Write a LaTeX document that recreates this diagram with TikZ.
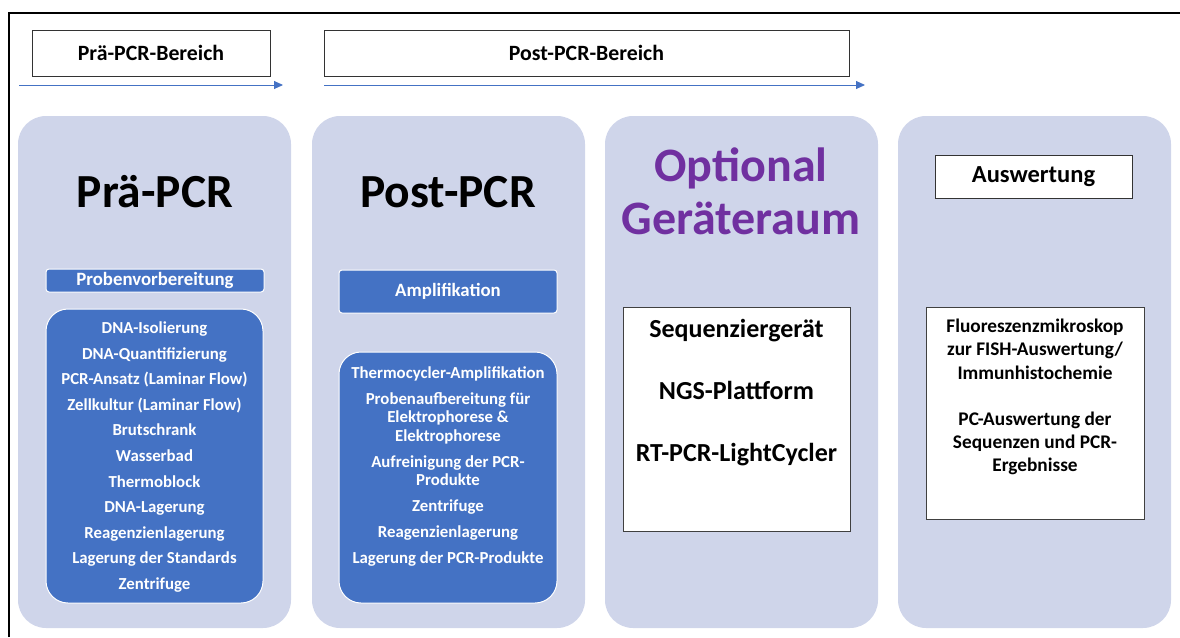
\documentclass[tikz,border=0pt]{standalone}
\usepackage{fontspec}
\setmainfont{Carlito}
\usetikzlibrary{arrows.meta}
\definecolor{panelfill}{HTML}{CFD5EA}
\definecolor{accent}{HTML}{4472C4}
\definecolor{optpurple}{HTML}{7030A0}
\tikzset{
  panelbox/.style={fill=panelfill, rounded corners=28pt, minimum width=273pt,
    minimum height=512pt, inner sep=0pt},
  headbox/.style={draw=black!80, line width=0.8pt, fill=white, inner sep=0pt,
    font=\fontsize{21.8}{25}\selectfont\bfseries},
  flowarrow/.style={draw=accent, line width=0.9pt, -{Triangle[length=9pt,width=8pt]}},
  bigtitle/.style={font=\fontsize{47.5}{53}\selectfont\bfseries, inner sep=0pt},
  bluebar/.style={fill=accent, draw=white, line width=1pt, rounded corners=3pt,
    inner sep=0pt, text=white, font=\fontsize{18.8}{22}\selectfont\bfseries},
  bluelist/.style={fill=accent, draw=white, line width=1pt, rounded corners=22pt,
    inner sep=0pt, text=white, align=center},
  whitebox/.style={draw=black!75, line width=0.8pt, fill=white, inner sep=0pt},
}
\begin{document}
\begin{tikzpicture}[x=1pt,y=-1pt]
\useasboundingbox (0,0) rectangle (1180,637);

% outer frame (top and left edges)
\draw[line width=1.6pt] (9,637) -- (9,13) -- (1180,13);

% area headers with direction arrows
\node[headbox, minimum width=238pt, minimum height=46pt] (hdrpre) at (151,53) {Prä-PCR-Bereich};
\node[headbox, minimum width=525pt, minimum height=46pt] (hdrpost) at (586.5,53) {Post-PCR-Bereich};
\coordinate (a1s) at (19,85);
\coordinate (a1e) at (283,85);
\coordinate (a2s) at (324,85);
\coordinate (a2e) at (865,85);
\draw[flowarrow] (a1s) -- (a1e);
\draw[flowarrow] (a2s) -- (a2e);

% four room panels
\node[panelbox] (p1) at (154.5,372) {};
\node[panelbox] (p2) at (448.5,372) {};
\node[panelbox] (p3) at (741.5,372) {};
\node[panelbox] (p4) at (1034.5,372) {};

% panel titles
\node[bigtitle] (t1) at (155,192) {Prä-PCR};
\node[bigtitle] (t2) at (448,192) {Post-PCR};
\node[bigtitle, text=optpurple, align=center, font=\fontsize{48}{53}\selectfont\bfseries] (t3) at (741,191.5) {Optional\\Geräteraum};
\node[headbox, minimum width=197pt, minimum height=43pt, font=\fontsize{24.5}{28}\selectfont\bfseries] (t4) at (1033.5,176.5) {Auswertung};

% Prä-PCR
\node[bluebar, minimum width=218pt, minimum height=23pt] (probe) at (155,280.5) {Probenvorbereitung};
\node[bluelist, minimum width=217pt, minimum height=294pt] (list1) at (154.5,456) {};
\node[text=white, align=center, inner sep=0pt,
  font=\fontsize{16.8}{25.6}\selectfont\bfseries] (list1txt) at (154.5,457) {%
  DNA-Isolierung\\DNA-Quantifizierung\\PCR-Ansatz (Laminar Flow)\\Zellkultur (Laminar Flow)\\%
  Brutschrank\\Wasserbad\\Thermoblock\\DNA-Lagerung\\Reagenzienlagerung\\%
  Lagerung der Standards\\Zentrifuge};

% Post-PCR
\node[bluebar, minimum width=218pt, minimum height=43pt] (ampli) at (448,291.5) {Amplifikation};
\node[bluelist, minimum width=218pt, minimum height=251pt] (list2) at (448,477.5) {};
\node[text=white, align=center, inner sep=0pt,
  font=\fontsize{16.8}{18.5}\selectfont\bfseries] (list2txt) at (448,466.5) {%
  Thermocycler-Amplifikation\\[7.5pt]Probenaufbereitung für\\Elektrophorese \&\\Elektrophorese\\[7.5pt]%
  Aufreinigung der PCR-\\Produkte\\[7.5pt]Zentrifuge\\[7.5pt]Reagenzienlagerung\\[7.5pt]%
  Lagerung der PCR-Produkte};

% Geräteraum
\node[whitebox, minimum width=227pt, minimum height=224pt] (devbox) at (736.5,419) {};
\node[align=center, inner sep=0pt, font=\fontsize{26}{62}\selectfont\bfseries] (devtxt) at (736.5,393) {%
  Sequenziergerät\\NGS-Plattform\\RT-PCR-LightCycler};

% Auswertung
\node[whitebox, minimum width=218pt, minimum height=212pt] (evalbox) at (1035,413) {};
\node[align=center, inner sep=0pt, font=\fontsize{19.3}{23.2}\selectfont\bfseries] (evaltxt) at (1035,397) {%
  Fluoreszenzmikroskop\\zur FISH-Auswertung/\\Immunhistochemie\\[23pt]%
  PC-Auswertung der\\Sequenzen und PCR-\\Ergebnisse};
\end{tikzpicture}
\end{document}
